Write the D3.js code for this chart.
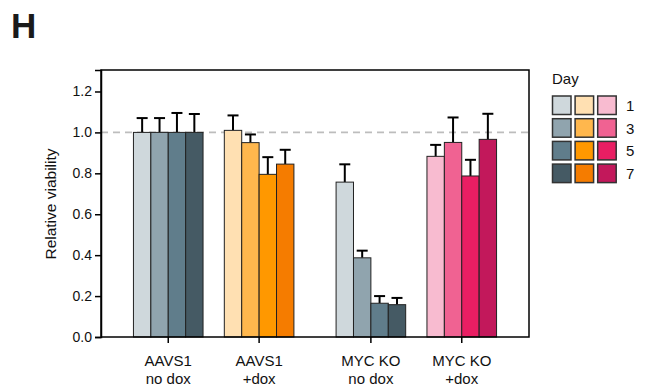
<!DOCTYPE html>
<html>
<head>
<meta charset="utf-8">
<script src="https://cdn.jsdelivr.net/npm/d3@7"></script>
<style>
  html, body { margin: 0; padding: 0; background: #fff; }
  svg { display: block; font-family: "Liberation Sans", Arial, sans-serif; }
</style>
</head>
<body>
<svg id="chart" width="646" height="390"></svg>
<script>
// Viability relative to day 1 for each condition, by day
const conditions = ["AAVS1\nno dox", "AAVS1\n+dox", "MYC KO\nno dox", "MYC KO\n+dox"];
const days = ["1", "3", "5", "7"];

const aavsNoDox   = [1.00, 1.00, 1.00, 1.00];
const aavsDox     = [1.01, 0.95, 0.795, 0.845];
const mycNoDox    = [0.757, 0.387, 0.165, 0.158];
const mycDox      = [0.883, 0.951, 0.787, 0.966];

const aavsNoDoxErr = [0.07, 0.07, 0.095, 0.09];
const aavsDoxErr   = [0.073, 0.04, 0.084, 0.07];
const mycNoDoxErr  = [0.087, 0.035, 0.035, 0.033];
const mycDoxErr    = [0.056, 0.122, 0.079, 0.125];

const yTicks = [0, 0.2, 0.4, 0.6, 0.8, 1.0, 1.2];

// Colour ramps: blue-grey for controls, orange for AAVS1 +dox, pink for MYC KO +dox
const greyRamp   = ["#cfd8dc", "#90a4ae", "#607d8b", "#455a64"];
const orangeRamp = ["#ffe0b2", "#ffb74d", "#ff9800", "#f57c00"];
const pinkRamp   = ["#f8bbd0", "#f06292", "#e91e63", "#c2185b"];

const seriesValues = [aavsNoDox, aavsDox, mycNoDox, mycDox];
const seriesErrors = [aavsNoDoxErr, aavsDoxErr, mycNoDoxErr, mycDoxErr];
const seriesRamps  = [greyRamp, orangeRamp, greyRamp, pinkRamp];

const svg = d3.select("#chart");
const plot = { left: 101, right: 529, top: 70, bottom: 337 };

// The two MYC KO groups sit a little further from the AAVS1 pair
const pairGap = 0.23;
const groupPos = conditions.map((c, i) => i + (i >= 2 ? pairGap : 0));

const x = d3.scaleLinear().domain([-0.74, 3 + pairGap + 0.74]).range([plot.left, plot.right]);
const y = d3.scaleLinear().domain([0, 1.305]).range([plot.bottom, plot.top]);

const barW = 17.4;
const groupW = barW * days.length;

const rows = [];
conditions.forEach((c, gi) => {
  days.forEach((d, di) => {
    rows.push({
      group: gi, day: di,
      value: seriesValues[gi][di],
      err: seriesErrors[gi][di],
      color: seriesRamps[gi][di]
    });
  });
});
const barX = r => x(groupPos[r.group]) - groupW / 2 + r.day * barW;

// Reference line at 1.0
svg.append("line")
  .attr("x1", plot.left).attr("x2", plot.right)
  .attr("y1", y(1)).attr("y2", y(1))
  .attr("stroke", "#bdbdbd").attr("stroke-width", 1.6)
  .attr("stroke-dasharray", "7,5");

// Error bars (upper only)
const eb = svg.append("g").attr("stroke", "#000").attr("stroke-width", 2);
rows.forEach(r => {
  const cx = barX(r) + barW / 2;
  eb.append("line").attr("x1", cx).attr("x2", cx)
    .attr("y1", y(r.value)).attr("y2", y(r.value + r.err));
  eb.append("line").attr("x1", cx - 5.5).attr("x2", cx + 5.5)
    .attr("y1", y(r.value + r.err)).attr("y2", y(r.value + r.err));
});

// Bars
svg.append("g").selectAll("rect").data(rows).join("rect")
  .attr("x", barX)
  .attr("y", r => y(r.value))
  .attr("width", barW)
  .attr("height", r => y(0) - y(r.value))
  .attr("fill", r => r.color)
  .attr("stroke", "#222")
  .attr("stroke-width", 1);

// Frame
svg.append("rect")
  .attr("x", plot.left).attr("y", plot.top)
  .attr("width", plot.right - plot.left).attr("height", plot.bottom - plot.top)
  .attr("fill", "none").attr("stroke", "#000").attr("stroke-width", 1.5);

// Y axis
const yAxis = svg.append("g")
  .attr("transform", `translate(${plot.left},0)`)
  .call(d3.axisLeft(y).tickValues(yTicks).tickFormat(d3.format(".1f")).tickSize(6).tickPadding(3));
yAxis.select(".domain").attr("stroke-width", 1.5);
yAxis.selectAll(".tick line").attr("stroke-width", 1.5);
yAxis.selectAll(".tick text").attr("font-size", 14).attr("fill", "#111")
  .attr("font-family", "'Liberation Sans', Arial, sans-serif");

// X axis ticks and two-line labels
const xAxis = svg.append("g").attr("transform", `translate(0,${plot.bottom})`);
xAxis.selectAll("line").data(conditions).join("line")
  .attr("x1", (c, i) => x(groupPos[i])).attr("x2", (c, i) => x(groupPos[i]))
  .attr("y1", 0).attr("y2", 6)
  .attr("stroke", "#000").attr("stroke-width", 1.5);
xAxis.selectAll("text").data(conditions).join("text")
  .attr("text-anchor", "middle")
  .attr("font-size", 15).attr("fill", "#111")
  .each(function (c, i) {
    const t = d3.select(this);
    c.split("\n").forEach((line, li) => {
      t.append("tspan").attr("x", x(groupPos[i])).attr("y", 29 + li * 17.5).text(line);
    });
  });

// Y axis title
svg.append("text")
  .attr("transform", `translate(56,204) rotate(-90)`)
  .attr("text-anchor", "middle").attr("font-size", 15.5).attr("fill", "#111")
  .text("Relative viability");

// Panel letter
svg.append("text").attr("x", 11).attr("y", 38)
  .attr("font-size", 35).attr("font-weight", "bold").attr("fill", "#1a1a1a")
  .text("H");

// Legend: one column per colour ramp, one row per day
const legend = svg.append("g").attr("transform", "translate(552,0)");
legend.append("text").attr("x", 0).attr("y", 84).attr("font-size", 15).attr("fill", "#111").text("Day");
const legendRamps = [greyRamp, orangeRamp, pinkRamp];
days.forEach((d, di) => {
  legendRamps.forEach((ramp, ci) => {
    legend.append("rect")
      .attr("x", ci * 22.6 + 0.5).attr("y", 96 + di * 22.7)
      .attr("width", 18.5).attr("height", 18.5)
      .attr("fill", ramp[di]).attr("stroke", "#333").attr("stroke-width", 1.5);
  });
  legend.append("text").attr("x", 74).attr("y", 96 + di * 22.7 + 15)
    .attr("font-size", 15).attr("fill", "#111").text(d);
});
</script>
</body>
</html>
